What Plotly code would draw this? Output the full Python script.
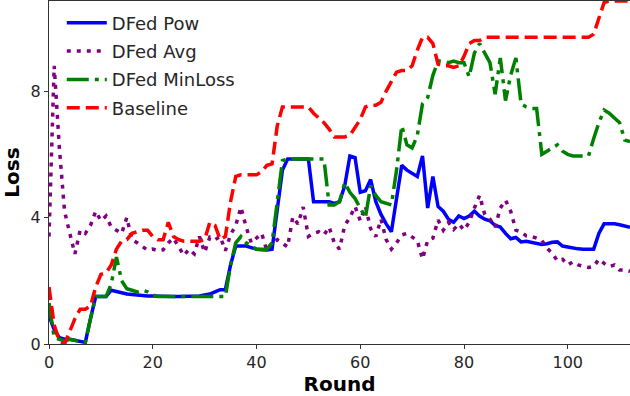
import plotly.graph_objects as go

rounds = list(range(113))

pow_loss = [0.9, 0.45, 0.2, 0.15, 0.15, 0.12, 0.1, 0.05, 0.8, 1.5,
            1.5, 1.5, 1.7, 1.65, 1.62, 1.58, 1.56, 1.55, 1.53, 1.52,
            1.52, 1.51, 1.5, 1.5, 1.5, 1.5, 1.5, 1.5, 1.51, 1.52,
            1.55, 1.58, 1.65, 1.72, 1.72, 2.5, 3.1, 3.1, 3.1, 3.05,
            3.0, 2.98, 2.97, 3.0, 4.3, 5.5, 5.85, 5.85, 5.85, 5.85,
            5.85, 4.5, 4.5, 4.5, 4.5, 4.45, 4.5, 5.0, 5.95, 5.9,
            4.8, 4.85, 5.2, 4.5, 4.1, 3.8, 3.55, 4.6, 5.65, 5.5,
            5.4, 5.3, 5.95, 4.3, 5.3, 4.35, 4.2, 3.95, 3.85, 4.05,
            3.97, 4.05, 4.2, 4.05, 3.95, 3.9, 3.75, 3.7, 3.5, 3.33,
            3.37, 3.23, 3.25, 3.22, 3.17, 3.15, 3.17, 3.22, 3.23, 3.1,
            3.07, 3.03, 3.01, 3.0, 3.0, 3.0, 3.5, 3.8, 3.8, 3.8,
            3.77, 3.72, 3.69]

avg_loss = [3.4, 8.8, 6.2, 4.2, 3.5, 2.85, 3.6, 3.5, 3.75, 4.2,
            3.9, 4.05, 3.7, 3.6, 3.5, 4.0, 3.3, 3.2, 3.1, 2.97,
            3.0, 2.95, 2.98, 3.2, 3.35, 3.1, 2.8, 3.0, 2.85, 3.4,
            2.9, 3.38, 3.3, 3.4, 2.95, 3.46, 3.75, 4.33, 3.7, 3.2,
            3.35, 3.5, 2.95, 3.2, 3.3, 3.2, 3.07, 4.02, 3.8, 4.33,
            3.4, 3.5, 3.55, 3.45, 3.7, 3.2, 3.0, 3.75, 4.0, 4.35,
            3.9, 4.35, 3.65, 3.4, 3.95, 3.3, 3.0, 3.2, 3.45, 3.5,
            3.38, 3.27, 2.69, 3.28, 3.35, 3.92, 3.6, 3.85, 3.62, 3.8,
            3.6, 3.85, 4.3, 4.7, 4.1, 3.95, 3.7, 4.3, 4.55, 4.2,
            3.6, 3.55, 3.42, 3.4, 3.35, 3.28, 3.03, 2.87, 2.63, 2.68,
            2.5, 2.6, 2.5, 2.45, 2.42, 2.45, 2.68, 2.55, 2.45, 2.5,
            2.34, 2.34, 2.3]

minloss_loss = [1.3, 0.2, 0.15, 0.1, 0.15, 0.12, 0.1, 0.05, 0.8, 1.5,
                1.5, 1.5, 1.9, 2.75, 2.0, 1.75, 1.7, 1.65, 1.7, 1.65,
                1.55, 1.5, 1.5, 1.5, 1.5, 1.5, 1.5, 1.5, 1.5, 1.5,
                1.5, 1.5, 1.5, 1.5, 1.5, 2.5, 3.2, 3.4, 3.2, 3.1,
                3.0, 3.0, 3.0, 3.2, 4.6, 5.8, 5.85, 5.85, 5.85, 5.85,
                5.85, 5.85, 5.85, 5.85, 4.4, 4.4, 4.5, 5.1, 4.8, 4.6,
                4.3, 4.0, 5.0, 4.7, 4.5, 4.45, 4.4, 5.5, 6.9, 6.3,
                6.2, 6.6, 7.6, 7.8, 8.5, 8.95, 8.95, 8.9, 8.95, 8.9,
                8.9, 8.45, 9.2, 9.5, 9.2, 8.9, 7.9, 9.05, 7.7, 8.5,
                9.05, 7.6, 7.5, 7.45, 7.45, 6.0, 6.1, 6.2, 6.3, 6.1,
                6.0, 5.95, 5.95, 5.95, 5.95, 6.5, 7.0, 7.4, 7.3, 7.15,
                7.0, 6.45, 6.4]

baseline_loss = [1.8, 0.6, 0.1, 0.0, 0.4, 0.8, 1.1, 1.1, 1.2, 1.8,
                 2.2, 2.25, 2.5, 3.0, 3.25, 3.3, 3.5, 3.55, 3.6, 3.6,
                 3.4, 3.3, 3.3, 3.85, 3.4, 3.3, 3.25, 3.25, 3.25, 3.25,
                 3.3, 3.85, 3.75, 3.3, 3.4, 4.5, 5.3, 5.35, 5.35, 5.35,
                 5.35, 5.45, 5.65, 5.7, 6.9, 7.5, 7.5, 7.5, 7.5, 7.5,
                 7.5, 7.3, 7.15, 7.0, 6.8, 6.55, 6.55, 6.55, 6.6, 6.85,
                 7.1, 7.5, 7.55, 7.55, 7.65, 8.0, 8.3, 8.6, 8.65, 8.65,
                 8.8, 9.3, 9.7, 9.7, 9.5, 8.85, 8.8, 8.8, 8.75, 8.8,
                 9.1, 9.5, 9.6, 9.6, 9.7, 9.7, 9.7, 9.7, 9.7, 9.7,
                 9.7, 9.7, 9.7, 9.7, 9.7, 9.7, 9.7, 9.7, 9.7, 9.7,
                 9.7, 9.7, 9.7, 9.7, 9.7, 9.8, 10.3, 10.8, 10.85, 10.85,
                 10.85, 10.85, 10.85]

names = ["DFed Pow", "DFed Avg", "DFed MinLoss", "Baseline"]
colors = ["#0000ff", "#800080", "#008000", "#ff0000"]
dashes = ["solid", "4px,6px", "22px,6px,4px,6px", "13px,6px"]
series = [pow_loss, avg_loss, minloss_loss, baseline_loss]

x_ticks = [0, 20, 40, 60, 80, 100]
y_ticks = [0, 4, 8]

fig = go.Figure()
for name, color, dash, ys in zip(names, colors, dashes, series):
    fig.add_trace(go.Scatter(x=rounds, y=ys, mode="lines", name=name, legendgroup=name,
                             line=dict(color=color, width=3.5, dash=dash)))

font_family = "DejaVu Sans"
fig.update_layout(
    width=630, height=396,
    margin=dict(l=49, r=0, t=1, b=52),
    paper_bgcolor="white", plot_bgcolor="white",
    font=dict(family=font_family, size=16, color="#262626"),
    showlegend=True,
    legend=dict(x=0.022, y=0.99, xanchor="left", yanchor="top",
                font=dict(size=18, color="#262626"),
                bgcolor="rgba(255,255,255,0.8)", borderwidth=0,
                tracegroupgap=2, itemwidth=40),
)
fig.update_xaxes(range=[0, 112], tickvals=x_ticks, showgrid=False, zeroline=False,
                 showline=True, linecolor="#333333", linewidth=1.2, mirror=True,
                 ticks="outside", ticklen=4, tickcolor="#333333",
                 tickfont=dict(size=16),
                 title=dict(text="<b>Round</b>", font=dict(size=20, color="black"), standoff=4))
fig.update_yaxes(range=[0, 10.85], tickvals=y_ticks, showgrid=False, zeroline=False,
                 showline=True, linecolor="#333333", linewidth=1.2,
                 ticks="outside", ticklen=4, tickcolor="#333333",
                 tickfont=dict(size=16),
                 title=dict(text="<b>Loss</b>", font=dict(size=20, color="black"), standoff=5))

fig.write_html("out.html")
